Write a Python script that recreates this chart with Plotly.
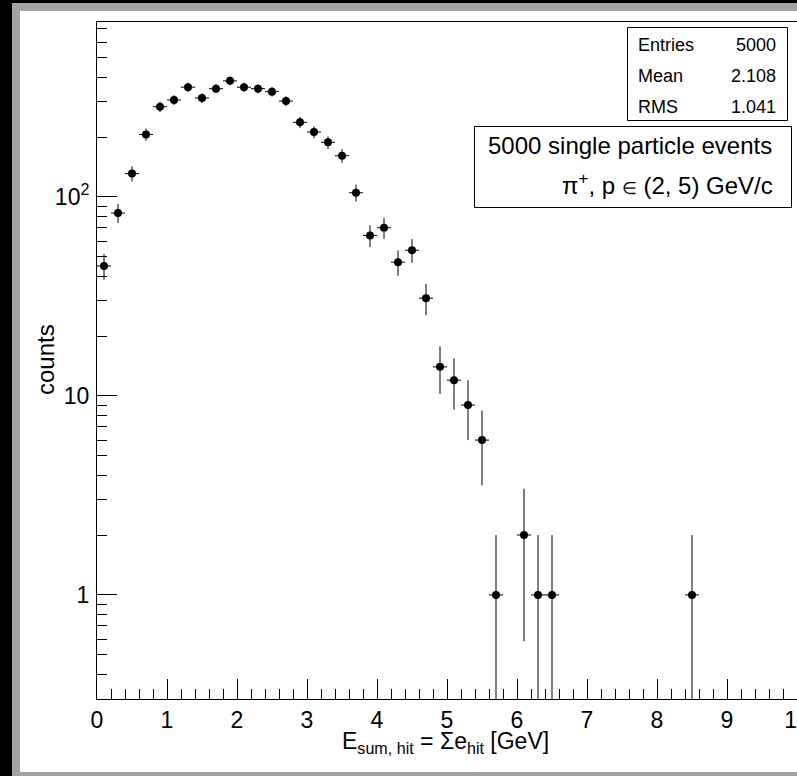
import numpy as np
import plotly.graph_objects as go

# Histogram contents: 0.2 GeV bins, only non-empty bins listed
bin_centers = [0.1, 0.3, 0.5, 0.7, 0.9, 1.1, 1.3, 1.5, 1.7, 1.9,
               2.1, 2.3, 2.5, 2.7, 2.9, 3.1, 3.3, 3.5, 3.7, 3.9,
               4.1, 4.3, 4.5, 4.7, 4.9, 5.1, 5.3, 5.5, 5.7, 6.1,
               6.3, 6.5, 8.5]
bin_counts = [45, 83, 131, 206, 284, 307, 356, 314, 350, 383,
              356, 350, 338, 303, 237, 212, 188, 161, 105, 64,
              70, 47, 54, 31, 14, 12, 9, 6, 1, 2,
              1, 1, 1]
bin_half_width = 0.1

stats_labels = ["Entries", "Mean", "RMS"]
stats_values = ["5000", "2.108", "1.041"]

x_tick_vals = [0, 1, 2, 3, 4, 5, 6, 7, 8, 9, 10]
x_tick_text = ["0", "1", "2", "3", "4", "5", "6", "7", "8", "9", "10"]
y_tick_vals = [1, 10, 100]
y_tick_text = ["1", "10", "10<sup>2</sup>"]
y_minor_vals = [0.3, 0.4, 0.5, 0.6, 0.7, 0.8, 0.9,
                2, 3, 4, 5, 6, 7, 8, 9,
                20, 30, 40, 50, 60, 70, 80, 90,
                200, 300, 400, 500, 600, 700]

W, H = 797, 776
L, R, T, B = 97, 797, 22, 699  # frame edges in pixels

FONT = "Liberation Sans, Arial, Helvetica, sans-serif"
GRAY = "#a3a3a3"


def px_x(px):
    return (px - L) / (R - L)


def px_y(py):
    return (B - py) / (B - T)


errors = np.sqrt(np.array(bin_counts, dtype=float))

fig = go.Figure()
fig.add_trace(go.Scatter(
    x=bin_centers, y=bin_counts, mode="markers",
    marker=dict(symbol="circle", size=8, color="black"),
    error_x=dict(type="constant", value=bin_half_width, thickness=1,
                 width=0, color="black"),
    error_y=dict(type="data", array=errors, symmetric=True, thickness=1,
                 width=0, color="black"),
    showlegend=False,
))

shapes = []
# canvas bevel: black outer edge, gray border
shapes.append(dict(type="rect", xref="paper", yref="paper", layer="below",
                   x0=px_x(0), x1=px_x(12), y0=px_y(H), y1=px_y(0),
                   fillcolor="black", line=dict(width=0)))
shapes.append(dict(type="rect", xref="paper", yref="paper", layer="below",
                   x0=px_x(12), x1=px_x(W), y0=px_y(3), y1=px_y(0),
                   fillcolor="black", line=dict(width=0)))
shapes.append(dict(type="rect", xref="paper", yref="paper", layer="below",
                   x0=px_x(12), x1=px_x(W), y0=px_y(11), y1=px_y(3),
                   fillcolor=GRAY, line=dict(width=0)))
shapes.append(dict(type="rect", xref="paper", yref="paper", layer="below",
                   x0=px_x(12), x1=px_x(20), y0=px_y(H), y1=px_y(3),
                   fillcolor=GRAY, line=dict(width=0)))
shapes.append(dict(type="rect", xref="paper", yref="paper", layer="below",
                   x0=px_x(20), x1=px_x(W), y0=px_y(H), y1=px_y(772),
                   fillcolor=GRAY, line=dict(width=0)))
# statistics box
shapes.append(dict(type="rect", xref="paper", yref="paper", layer="above",
                   x0=px_x(627.5), x1=px_x(787.5), y0=px_y(120.5), y1=px_y(27.5),
                   fillcolor="white", line=dict(color="black", width=1)))
# info box
shapes.append(dict(type="rect", xref="paper", yref="paper", layer="above",
                   x0=px_x(474.5), x1=px_x(791.5), y0=px_y(207.5), y1=px_y(126.5),
                   fillcolor="white", line=dict(color="black", width=1)))

annotations = []
for i, (lab, val) in enumerate(zip(stats_labels, stats_values)):
    yc = [45, 76.5, 107][i]
    annotations.append(dict(xref="paper", yref="paper", x=px_x(636), y=px_y(yc),
                            text=lab, showarrow=False, xanchor="left", yanchor="middle",
                            font=dict(family=FONT, size=18, color="black")))
    annotations.append(dict(xref="paper", yref="paper", x=px_x(778), y=px_y(yc),
                            text=val, showarrow=False, xanchor="right", yanchor="middle",
                            font=dict(family=FONT, size=18, color="black")))

annotations.append(dict(xref="paper", yref="paper", x=px_x(486), y=px_y(145),
                        text="5000 single particle events", showarrow=False,
                        xanchor="left", yanchor="middle",
                        font=dict(family=FONT, size=24, color="black")))
annotations.append(dict(xref="paper", yref="paper", x=px_x(775), y=px_y(184),
                        text="π<sup>+</sup>, p <span style='font-size:17px'>∈</span> (2, 5) GeV/c",
                        showarrow=False, xanchor="right", yanchor="middle",
                        font=dict(family=FONT, size=24, color="black")))
# axis titles
annotations.append(dict(xref="paper", yref="paper", x=px_x(445), y=px_y(742),
                        text="E<sub>sum, hit</sub> = Σe<sub>hit</sub> [GeV]",
                        showarrow=False, xanchor="center", yanchor="middle",
                        font=dict(family=FONT, size=23, color="black")))
annotations.append(dict(xref="paper", yref="paper", x=px_x(46), y=px_y(360),
                        text="counts", textangle=-90,
                        showarrow=False, xanchor="center", yanchor="middle",
                        font=dict(family=FONT, size=24, color="black")))

fig.update_layout(
    width=W, height=H,
    margin=dict(l=L, r=W - R, t=T, b=H - B, pad=0, autoexpand=False),
    paper_bgcolor="white", plot_bgcolor="white",
    shapes=shapes, annotations=annotations,
    showlegend=False,
    xaxis=dict(
        range=[0, 10], showgrid=False, zeroline=False, automargin=False,
        showline=True, linecolor="black", linewidth=1, mirror=True,
        tickmode="array", tickvals=x_tick_vals, ticktext=x_tick_text,
        ticks="inside", ticklen=20, tickwidth=1, tickcolor="black",
        minor=dict(ticks="inside", ticklen=10, dtick=0.2, tick0=0,
                   tickwidth=1, tickcolor="black", showgrid=False),
        tickfont=dict(family=FONT, size=23, color="black"),
        ticklabelstandoff=0, ticklabeloverflow="allow",
    ),
    yaxis=dict(
        type="log", range=[np.log10(0.3), 2.879], showgrid=False, zeroline=False,
        automargin=False,
        showline=True, linecolor="black", linewidth=1, mirror=False,
        tickmode="array", tickvals=y_tick_vals, ticktext=y_tick_text,
        ticks="inside", ticklen=20, tickwidth=1, tickcolor="black",
        minor=dict(ticks="inside", ticklen=10, tickmode="array", tickvals=y_minor_vals,
                   tickwidth=1, tickcolor="black", showgrid=False),
        tickfont=dict(family=FONT, size=23, color="black"),
        ticklabelstandoff=2,
    ),
)

fig.write_html("out.html")
